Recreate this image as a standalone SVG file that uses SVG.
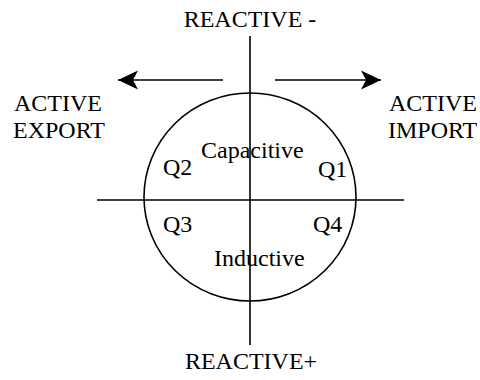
<svg xmlns="http://www.w3.org/2000/svg" width="480" height="380" viewBox="0 0 480 380">
<style>
text{font-family:"Liberation Serif","Times New Roman",serif;font-size:24px;fill:#000}
.ln{stroke:#000;stroke-width:1.6;fill:none}
</style>
<defs>
<marker id="ah" markerUnits="userSpaceOnUse" markerWidth="24" markerHeight="24" refX="20" refY="10" orient="auto">
<path d="M20,10 L0,0.5 L5,10 L0,19.5 Z" fill="#000"/>
</marker>
</defs>
<rect width="480" height="380" fill="#fff"/>
<g id="connectors">
<line class="ln" x1="250" y1="36" x2="250" y2="345"/>
<line class="ln" x1="97" y1="200" x2="404" y2="200"/>
<line class="ln" x1="223" y1="80" x2="118" y2="80" marker-end="url(#ah)"/>
<line class="ln" x1="275" y1="80" x2="381" y2="80" marker-end="url(#ah)"/>
</g>
<g id="circle"><ellipse class="ln" cx="250" cy="197" rx="106" ry="104"/></g>
<g id="reactive-minus"><text x="250" y="27" text-anchor="middle">REACTIVE -</text></g>
<g id="reactive-plus"><text x="251" y="369" text-anchor="middle">REACTIVE+</text></g>
<g id="active-export"><text x="14" y="110.5">ACTIVE</text><text x="13" y="138.3">EXPORT</text></g>
<g id="active-import"><text x="389" y="110.5">ACTIVE</text><text x="388" y="138.3">IMPORT</text></g>
<g id="capacitive"><text x="201" y="158">Capacitive</text></g>
<g id="inductive"><text x="214" y="266">Inductive</text></g>
<g id="q1"><text x="318" y="177">Q1</text></g>
<g id="q2"><text x="163" y="175">Q2</text></g>
<g id="q3"><text x="163" y="232">Q3</text></g>
<g id="q4"><text x="313" y="232">Q4</text></g>
</svg>
